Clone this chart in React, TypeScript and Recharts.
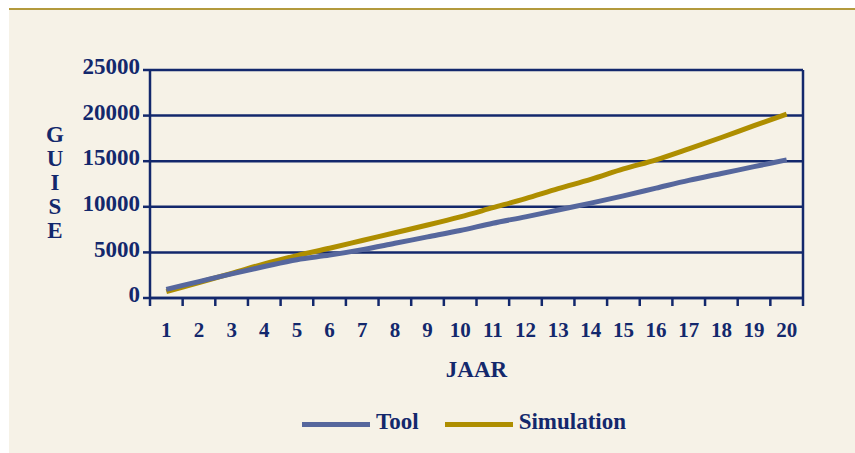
import React from 'react';
import { LineChart, Line, XAxis, YAxis, CartesianGrid, ReferenceLine } from 'recharts';

const years = [1, 2, 3, 4, 5, 6, 7, 8, 9, 10, 11, 12, 13, 14, 15, 16, 17, 18, 19, 20];
const toolValues = [950, 1800, 2650, 3450, 4200, 4700, 5300, 6000, 6700, 7400, 8200, 8900, 9650, 10400, 11200, 12050, 12900, 13650, 14400, 15150];
const simulationValues = [700, 1700, 2700, 3750, 4650, 5450, 6300, 7150, 8000, 8900, 9900, 10900, 12000, 13000, 14150, 15150, 16350, 17600, 18900, 20150];
const yTicks = [0, 5000, 10000, 15000, 20000, 25000];
const boundaryTicks = [0.5, 1.5, 2.5, 3.5, 4.5, 5.5, 6.5, 7.5, 8.5, 9.5, 10.5, 11.5, 12.5, 13.5, 14.5, 15.5, 16.5, 17.5, 18.5, 19.5, 20.5];

const data = years.map((year, i) => ({
  year,
  tool: toolValues[i],
  simulation: simulationValues[i],
}));

const NAVY = '#13286C';
const TOOL = '#56679D';
const GOLD = '#AE8E00';
const FONT = '"Liberation Serif", "Times New Roman", serif';

const GuiseLabel = (props: any) => {
  const { viewBox } = props;
  const x = viewBox.x - 25;
  const letters = ['G', 'U', 'I', 'S', 'E'];
  return (
    <text x={x} y={0} textAnchor="middle" fill={NAVY} fontFamily={FONT} fontWeight="bold" fontSize={23}>
      {letters.map((l, i) => (
        <tspan key={l} x={x} y={132 + i * 24}>{l}</tspan>
      ))}
    </text>
  );
};

const JaarLabel = (props: any) => {
  const { viewBox } = props;
  return (
    <text x={viewBox.x + viewBox.width / 2} y={viewBox.y + 71} textAnchor="middle" fill={NAVY} fontFamily={FONT} fontWeight="bold" fontSize={23}>
      JAAR
    </text>
  );
};

const LegendItem = ({ color, label }: { color: string; label: string }) => (
  <div style={{ display: 'flex', alignItems: 'center', marginRight: 26 }}>
    <div style={{ width: 68, height: 5, background: color, marginRight: 6, marginTop: 4 }} />
    <span style={{ fontFamily: FONT, fontWeight: 'bold', fontSize: 23, color: NAVY }}>{label}</span>
  </div>
);

export default function App() {
  return (
    <div style={{ position: 'fixed', inset: 0, background: '#fff' }}>
      <div
        style={{
          position: 'absolute',
          left: 9,
          top: 8,
          width: 846,
          height: 445,
          boxSizing: 'border-box',
          borderTop: '2px solid #B39A3C',
          background: '#F6F2E7',
        }}
      >
        <LineChart
          width={846}
          height={443}
          data={data}
          margin={{ top: 60, right: 52, left: 71, bottom: 97 }}
        >
          <CartesianGrid vertical={false} stroke={NAVY} strokeWidth={2.5} horizontalValues={yTicks} />
          <XAxis
            xAxisId="a"
            dataKey="year"
            type="number"
            domain={[0.5, 20.5]}
            ticks={boundaryTicks}
            interval={0}
            height={8}
            stroke={NAVY}
            axisLine={{ stroke: NAVY, strokeWidth: 2.5 }}
            tickLine={{ stroke: NAVY, strokeWidth: 2.5 }}
            tickSize={8}
            tickFormatter={() => ''}
          />
          <XAxis
            xAxisId="b"
            dataKey="year"
            type="number"
            domain={[0.5, 20.5]}
            ticks={years}
            interval={0}
            height={50}
            axisLine={false}
            tickLine={false}
            tickSize={0}
            tickMargin={16}
            tick={{ fill: NAVY, fontFamily: FONT, fontWeight: 'bold', fontSize: 21 }}
            label={<JaarLabel />}
          />
          <YAxis
            type="number"
            domain={[0, 25000]}
            ticks={yTicks}
            interval={0}
            width={70}
            axisLine={{ stroke: NAVY, strokeWidth: 2.5 }}
            tickLine={{ stroke: NAVY, strokeWidth: 2.5 }}
            tickSize={7}
            tickMargin={3}
            tick={{ fill: NAVY, fontFamily: FONT, fontWeight: 'bold', fontSize: 23, dy: -4 }}
            label={<GuiseLabel />}
          />
          <ReferenceLine xAxisId="a" x={20.5} stroke={NAVY} strokeWidth={2.5} />
          <Line
            xAxisId="a"
            type="monotone"
            dataKey="simulation"
            stroke={GOLD}
            strokeWidth={5}
            dot={false}
            isAnimationActive={false}
          />
          <Line
            xAxisId="a"
            type="monotone"
            dataKey="tool"
            stroke={TOOL}
            strokeWidth={5}
            dot={false}
            isAnimationActive={false}
          />
        </LineChart>
        <div style={{ position: 'absolute', left: 293, top: 397, display: 'flex', alignItems: 'center', height: 30 }}>
          <LegendItem color={TOOL} label="Tool" />
          <LegendItem color={GOLD} label="Simulation" />
        </div>
      </div>
    </div>
  );
}
